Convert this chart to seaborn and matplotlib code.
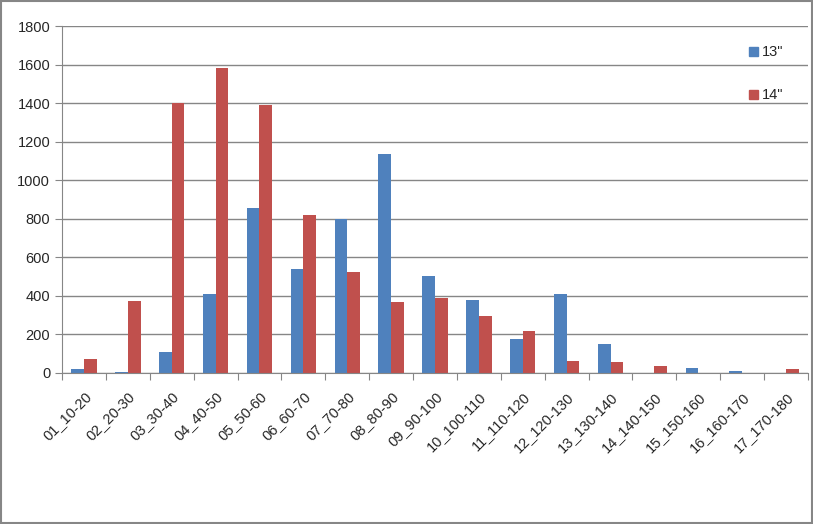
import numpy as np
import pandas as pd
import seaborn as sns
import matplotlib.pyplot as plt
from matplotlib.patches import Rectangle

categories = ['01_10-20', '02_20-30', '03_30-40', '04_40-50', '05_50-60', '06_60-70',
              '07_70-80', '08_80-90', '09_90-100', '10_100-110', '11_110-120',
              '12_120-130', '13_130-140', '14_140-150', '15_150-160', '16_160-170',
              '17_170-180']
s13 = [20, 5, 110, 410, 855, 540, 800, 1135, 505, 380, 175, 410, 150, 0, 25, 10, 0]
s14 = [75, 375, 1400, 1580, 1390, 820, 525, 370, 390, 295, 220, 60, 55, 38, 0, 0, 22]
series = ['13"', '14"']

df = pd.DataFrame({
    'cat': categories * 2,
    'val': s13 + s14,
    'size': [series[0]] * len(categories) + [series[1]] * len(categories),
})

sns.set_style('white')
plt.rcParams['font.family'] = ['Liberation Sans', 'DejaVu Sans']

fig = plt.figure(figsize=(8.13, 5.24), dpi=100)
ax = fig.add_axes([62 / 813, 1 - 373 / 524, (808 - 62) / 813, (373 - 26) / 524])
sns.barplot(data=df, x='cat', y='val', hue='size', palette=['#4F81BD', '#C0504D'],
            width=0.58, gap=0, saturation=1, linewidth=0, edgecolor='none',
            ax=ax, legend=False)

ax.set_ylim(0, 1800)
ax.set_xlim(-0.5, len(categories) - 0.5)
ax.set_yticks(range(0, 1801, 200))
ax.grid(axis='y', color='#868686', linewidth=1)
ax.set_axisbelow(True)
for side in ['top', 'right']:
    ax.spines[side].set_visible(False)
for side in ['left', 'bottom']:
    ax.spines[side].set_color('#868686')
ax.set_xlabel('')
ax.set_ylabel('')

# ticks between categories, labels at centres
ax.set_xticks(np.arange(-0.5, len(categories), 1), minor=False)
ax.set_xticklabels([])
ax.set_xticks(range(len(categories)), minor=True)
ax.set_xticklabels(categories, minor=True, rotation=45, ha='right', rotation_mode='anchor',
                   fontsize=10.5)
ax.tick_params(axis='x', which='major', direction='out', length=5, color='#868686', bottom=True)
ax.tick_params(axis='x', which='minor', length=0, pad=12)
ax.tick_params(axis='y', direction='out', length=5, color='#868686', left=True, labelsize=10.5)

# legend on the right
for i, (name, col) in enumerate(zip(series, ['#4F81BD', '#C0504D'])):
    y = 52 + i * 43
    fig.patches.append(Rectangle((749 / 813, 1 - (y + 4) / 524), 9 / 813, 9 / 524,
                                 color=col, transform=fig.transFigure, figure=fig))
    fig.text(762 / 813, 1 - y / 524, name, fontsize=10.5, va='center')

fig.patches.append(Rectangle((0.001, 0.001), 0.998, 0.997, fill=False, edgecolor='#868686',
                             linewidth=1.5, transform=fig.transFigure, figure=fig))

fig.savefig('out.png', dpi=100)
